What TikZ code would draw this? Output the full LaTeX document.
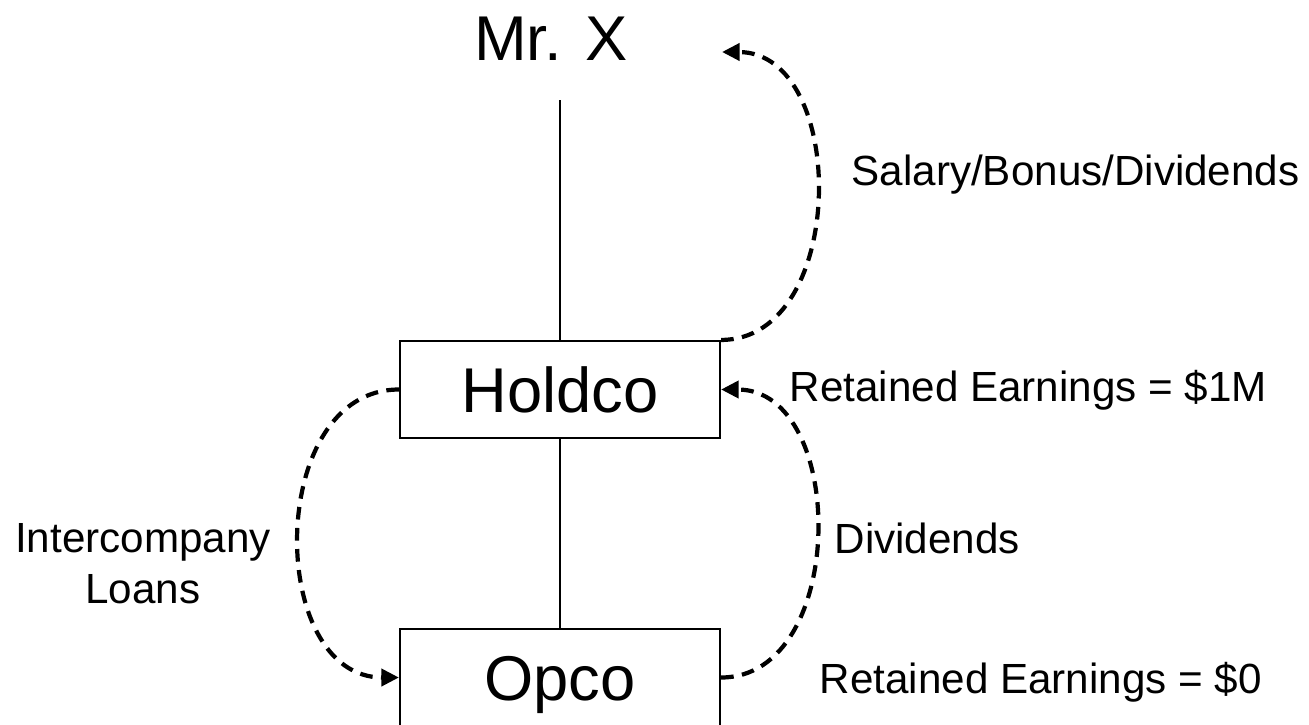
\documentclass[tikz,border=0pt]{standalone}
\usepackage{fontspec}
\setmainfont{Liberation Sans}
\usetikzlibrary{arrows.meta}

\tikzset{
  company/.style={draw=black, line width=0.6pt, minimum width=3.2cm, minimum height=0.97cm,
    inner sep=0pt, text height=0.46cm, text depth=0pt, font=\fontsize{18}{22}\selectfont},
  owner/.style={inner sep=0pt, font=\fontsize{18}{22}\selectfont},
  flow/.style={line width=1.2pt, dash pattern=on 3.6pt off 2.4pt,
    -{Triangle[length=5pt,width=4.8pt]}},
  note/.style={inner sep=0pt, font=\fontsize{12}{14.5}\selectfont},
}

\begin{document}
\begin{tikzpicture}
\clip (0,0) rectangle (13.09,7.24);

\node[owner, outer ysep=0.39cm, anchor=base] (mrx) at (5.51,6.63) {Mr. X};
\node[company] (holdco) at (5.60,3.345) {Holdco};
\node[company] (opco) at (5.60,0.465) {Opco};
\coordinate (mrxin) at (7.22,6.72);

\draw[line width=0.6pt] (holdco.north) -- (holdco.north |- mrx.south);
\draw[line width=0.6pt] (holdco.south) -- (opco.north);

\draw[flow] (holdco.north east) .. controls +(1.27,0) and +(1.27,0) .. (mrxin);
\draw[flow] (opco.east) .. controls +(1.27,0) and +(1.27,0) .. (holdco.east);
\draw[flow] (holdco.west) .. controls +(-1.33,0) and +(-1.33,0) .. (opco.west);

\node[note, anchor=base west] (salary) at (8.51,5.39) {Salary/Bonus/Dividends};
\node[note, anchor=base west] (reholdco) at (7.89,3.23) {Retained Earnings = \$1M};
\node[note, anchor=base west] (divs) at (8.34,1.71) {Dividends};
\node[note, anchor=base west] (reopco) at (8.19,0.31) {Retained Earnings = \$0};
\node[note, align=center, anchor=base] (loans) at (1.43,1.21) {Intercompany\\Loans};
\end{tikzpicture}
\end{document}
